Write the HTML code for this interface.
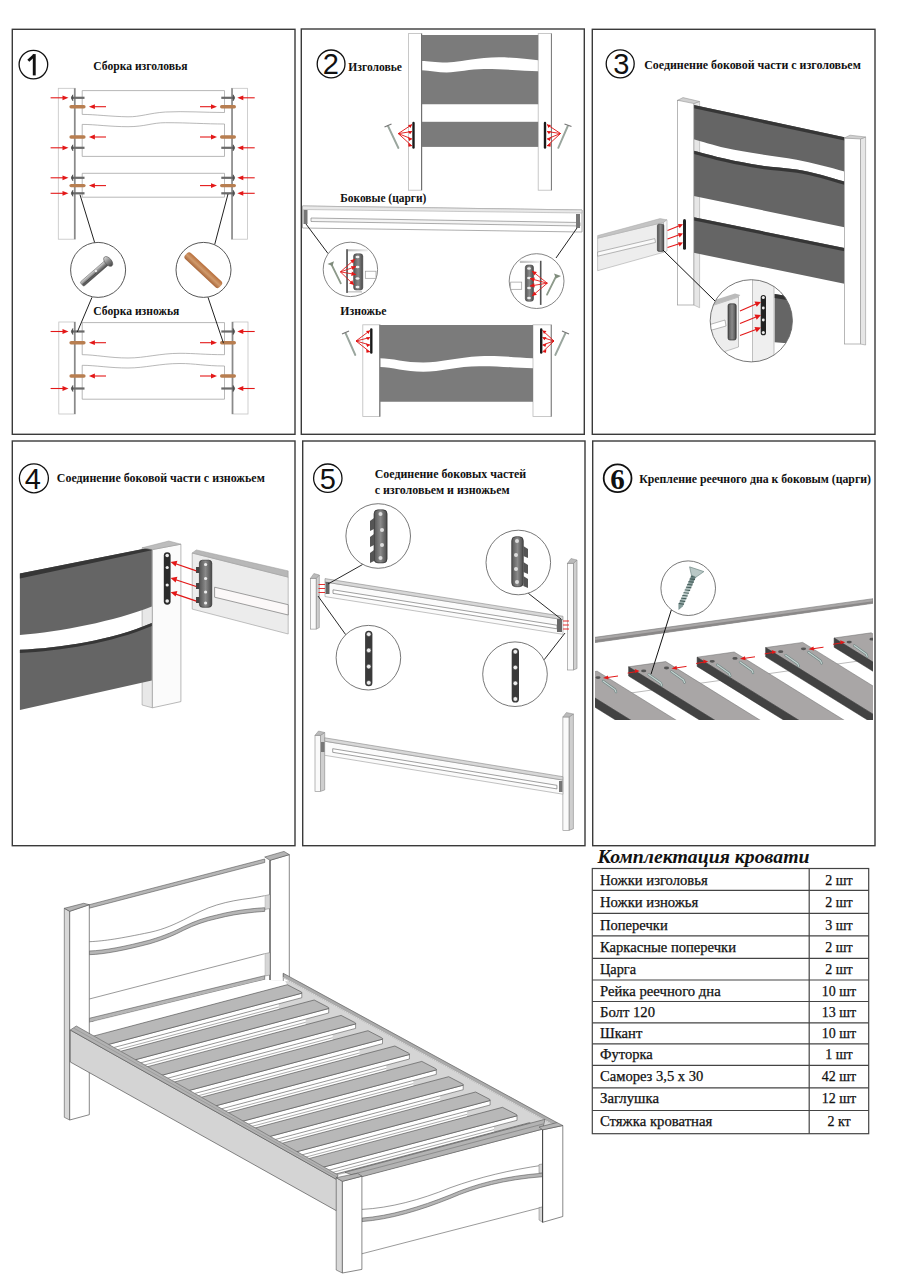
<!DOCTYPE html>
<html><head><meta charset="utf-8">
<style>
html,body{margin:0;padding:0;background:#fff;}
body{width:900px;height:1280px;overflow:hidden;position:relative;}
svg{position:absolute;left:0;top:0;}
.t{font-family:"Liberation Serif",serif;font-weight:bold;font-size:13.5px;fill:#111;}
.n{font-family:"Liberation Sans",sans-serif;font-size:29px;fill:#111;}
.tb{font-family:"Liberation Serif",serif;font-size:14px;fill:#111;stroke:#111;stroke-width:0.25px;}
</style></head>
<body>
<svg width="900" height="1280" viewBox="0 0 900 1280">
<!-- panel frames -->
<g fill="none" stroke="#3a3a3a" stroke-width="1.4">
<rect x="12.3" y="29.3" width="282.7" height="405"/>
<rect x="301.3" y="29" width="283" height="405.3"/>
<rect x="592.3" y="29.3" width="282.7" height="405"/>
<rect x="12.3" y="441" width="282.7" height="404.7"/>
<rect x="302.7" y="441" width="282.3" height="404.7"/>
<rect x="592.7" y="441" width="282.3" height="404.7"/>
</g>
<!-- ===== PANEL 2 ===== -->
<g id="p2">
<!-- headboard -->
<rect x="408.4" y="33.6" width="13.4" height="156.6" fill="#fff" stroke="#bbb" stroke-width="0.8"/>
<line x1="421.6" y1="33.6" x2="421.6" y2="190.2" stroke="#666" stroke-width="1"/>
<rect x="538.2" y="33.6" width="13.4" height="156.6" fill="#fff" stroke="#bbb" stroke-width="0.8"/>
<line x1="551.4" y1="33.6" x2="551.4" y2="190.2" stroke="#777" stroke-width="1"/>
<path d="M421.8 35.1H538.2V60.2C525 59 505 56 484 58C465 60 455 62.5 446.7 62.4C435 62.2 428 61 421.8 60.9Z" fill="#7b7b7b"/>
<path d="M421.8 70.2C430 70.5 438 72.4 446.7 72.4C458 72.4 470 69.2 484 69.1C505 69 525 71 538.2 71.3V104.2H421.8Z" fill="#7b7b7b"/>
<rect x="421.8" y="121.8" width="116.4" height="25.1" fill="#7b7b7b"/>
<!-- screws & arrows -->
<g stroke="#9aa69e" stroke-width="1.9" stroke-linecap="round"><line x1="388" y1="126" x2="398.4" y2="148"/><line x1="567.8" y1="126" x2="558.3" y2="147.8"/></g>
<g stroke="#777" stroke-width="1.3"><line x1="384.5" y1="127" x2="391.5" y2="124"/><line x1="571.5" y1="126.5" x2="564.5" y2="124"/></g>
<g stroke="#e01010" stroke-width="0.9" fill="none"><path d="M398.3 133.6L412 124.5M398.3 133.6L412 131.5M398.3 133.6L412 139M398.3 133.6L412 146"/><path d="M560.5 133.5L547 124.5M560.5 133.5L547 131.5M560.5 133.5L547 139M560.5 133.5L547 146"/></g>
<g fill="#e01010"><path d="M412 124.5l-4 0.5l2.5 3z M412 131.5l-4 -0.5l2 3.2z M412 139l-4 -1.6l1.2 3.6z M412 146l-3.8 -3l0.3 3.8z"/><path d="M547 124.5l4 0.5l-2.5 3z M547 131.5l4 -0.5l-2 3.2z M547 139l4 -1.6l-1.2 3.6z M547 146l3.8 -3l-0.3 3.8z"/></g>
<g stroke="#1a1a1a" stroke-width="2.4" stroke-linecap="round"><line x1="413.5" y1="123" x2="413.5" y2="147.5"/><line x1="545" y1="123" x2="545" y2="147.5"/></g>
<!-- side rail -->
<path d="M302.5 206L582 210V232L302.5 228Z" fill="#fff" stroke="#999" stroke-width="0.8"/>
<path d="M302.5 206L582 210L582 213L302.5 209.5Z" fill="#e8e8e8" stroke="#aaa" stroke-width="0.6"/>
<path d="M311 218L580 222.5L580 226L311 221.5Z" fill="#f4f4f4" stroke="#888" stroke-width="0.7"/>
<rect x="303.5" y="210" width="4" height="14" fill="#777"/>
<rect x="576" y="214" width="4" height="14" fill="#777"/>
<g stroke="#222" stroke-width="1"><line x1="306" y1="224" x2="328" y2="253.5"/><line x1="577" y1="228" x2="556" y2="258"/></g>
<defs><linearGradient id="gp" x1="0" y1="0" x2="1" y2="0"><stop offset="0" stop-color="#555"/><stop offset="0.5" stop-color="#8a8a8a"/><stop offset="1" stop-color="#4a4a4a"/></linearGradient>
<linearGradient id="gst" x1="0" y1="0" x2="1" y2="0"><stop offset="0" stop-color="#bbb"/><stop offset="1" stop-color="#eee"/></linearGradient></defs>
<circle cx="350.4" cy="269.4" r="27.2" fill="#fff" stroke="#666" stroke-width="0.8"/>
<circle cx="536.6" cy="281.1" r="27.4" fill="#fff" stroke="#666" stroke-width="0.8"/>
<rect x="346.1" y="249.2" width="1.9" height="43.7" fill="#666"/>
<rect x="348" y="249.2" width="19.8" height="2.1" fill="url(#gst)"/>
<rect x="348" y="291" width="14" height="1.6" fill="#ccc"/>
<rect x="353.6" y="253.8" width="9.2" height="36.2" rx="2.5" fill="url(#gp)" stroke="#333" stroke-width="0.5"/>
<ellipse cx="357.5" cy="257" rx="2" ry="1.3" fill="#eee"/>
<ellipse cx="357.5" cy="267" rx="2" ry="1.3" fill="#eee"/>
<ellipse cx="357.5" cy="278.5" rx="2" ry="1.3" fill="#eee"/>
<ellipse cx="357.5" cy="287" rx="2" ry="1.3" fill="#eee"/>
<rect x="365.3" y="271.2" width="10.7" height="7.1" fill="#fff" stroke="#999" stroke-width="0.7"/>
<line x1="331.5" y1="264.5" x2="340.8" y2="283.3" stroke="#8d9a8a" stroke-width="1.8" stroke-linecap="round"/>
<path d="M327.5 264L334 261.2L332.5 266Z" fill="#7f8c7c"/>
<line x1="340.4" y1="271.9" x2="355" y2="259" stroke="#e31818" stroke-width="0.9"/>
<path d="M355.0 259.0L353.1 263.6L350.2 260.3Z" fill="#e31818"/>
<line x1="340.4" y1="271.9" x2="356" y2="266.5" stroke="#e31818" stroke-width="0.9"/>
<path d="M356.0 266.5L352.5 270.1L351.0 265.9Z" fill="#e31818"/>
<line x1="340.4" y1="271.9" x2="356" y2="274.5" stroke="#e31818" stroke-width="0.9"/>
<path d="M356.0 274.5L351.2 275.9L351.9 271.6Z" fill="#e31818"/>
<line x1="340.4" y1="271.9" x2="354" y2="285" stroke="#e31818" stroke-width="0.9"/>
<path d="M354.0 285.0L349.2 283.5L352.3 280.3Z" fill="#e31818"/>
<rect x="539.9" y="260.8" width="1.6" height="44.1" fill="#555"/>
<rect x="519.9" y="260.8" width="20" height="2.2" fill="url(#gst)"/>
<rect x="525.3" y="265" width="8.2" height="36.3" rx="2.5" fill="url(#gp)" stroke="#333" stroke-width="0.5"/>
<ellipse cx="529" cy="268.5" rx="1.9" ry="1.3" fill="#eee"/>
<ellipse cx="529" cy="278" rx="1.9" ry="1.3" fill="#eee"/>
<ellipse cx="529" cy="288" rx="1.9" ry="1.3" fill="#eee"/>
<ellipse cx="529" cy="298" rx="1.9" ry="1.3" fill="#eee"/>
<rect x="510.7" y="282.1" width="11" height="7.2" fill="#fff" stroke="#999" stroke-width="0.7"/>
<line x1="556" y1="276.5" x2="547" y2="294.6" stroke="#8d9a8a" stroke-width="1.8" stroke-linecap="round"/>
<path d="M561 276L554 273.5L556 278.5Z" fill="#7f8c7c"/>
<line x1="547.3" y1="283.2" x2="532" y2="271" stroke="#e31818" stroke-width="0.9"/>
<path d="M532.0 271.0L536.9 272.1L534.1 275.5Z" fill="#e31818"/>
<line x1="547.3" y1="283.2" x2="530" y2="278.5" stroke="#e31818" stroke-width="0.9"/>
<path d="M530.0 278.5L534.9 277.6L533.8 281.8Z" fill="#e31818"/>
<line x1="547.3" y1="283.2" x2="530" y2="286" stroke="#e31818" stroke-width="0.9"/>
<path d="M530.0 286.0L534.1 283.1L534.8 287.5Z" fill="#e31818"/>
<line x1="547.3" y1="283.2" x2="532" y2="296" stroke="#e31818" stroke-width="0.9"/>
<path d="M532.0 296.0L534.0 291.4L536.9 294.8Z" fill="#e31818"/>
<!-- footboard -->
<rect x="362.8" y="324.8" width="17.2" height="91.8" fill="#fff" stroke="#bbb" stroke-width="0.8"/>
<line x1="379.8" y1="324.8" x2="379.8" y2="416.6" stroke="#666" stroke-width="1"/>
<rect x="533" y="324.8" width="18.4" height="91.8" fill="#fff" stroke="#bbb" stroke-width="0.8"/>
<line x1="551.2" y1="324.8" x2="551.2" y2="416.6" stroke="#777" stroke-width="1"/>
<path d="M380 325H533V358.2C515 357.5 500 355.5 479.3 356.3C458 357.5 440 362.5 423.3 362.5C405 362.5 392 358.2 380 358.2Z" fill="#7b7b7b"/>
<path d="M380 367C392 367 405 371.8 423.3 371.8C440 371.8 458 366.2 479.3 366.2C500 366 515 368 533 368.3V401.7H380Z" fill="#7b7b7b"/>
<g stroke="#9aa69e" stroke-width="1.9" stroke-linecap="round"><line x1="345.5" y1="333" x2="355.3" y2="355"/><line x1="565.5" y1="333" x2="555.3" y2="355"/></g>
<g stroke="#777" stroke-width="1.3"><line x1="342" y1="334" x2="349" y2="331"/><line x1="569" y1="334" x2="562" y2="331"/></g>
<g stroke="#e01010" stroke-width="0.9" fill="none"><path d="M356 341L370 330.5M356 341L370 337.5M356 341L370 345M356 341L370 352M554 341L542.5 330.5M554 341L542.5 337.5M554 341L542.5 345M554 341L542.5 352"/></g>
<g fill="#e01010"><path d="M370 330.5l-4 0.5l2.5 3z M370 337.5l-4 -0.5l2 3.2z M370 345l-4 -1.6l1.2 3.6z M370 352l-3.8 -3l0.3 3.8z"/><path d="M542.5 330.5l4 0.5l-2.5 3z M542.5 337.5l4 -0.5l-2 3.2z M542.5 345l4 -1.6l-1.2 3.6z M542.5 352l3.8 -3l-0.3 3.8z"/></g>
<g stroke="#1a1a1a" stroke-width="2.4" stroke-linecap="round"><line x1="371.3" y1="329.5" x2="371.3" y2="352.5"/><line x1="541.2" y1="329.5" x2="541.2" y2="352.5"/></g>
</g>
<g id="p1">
<rect x="58.3" y="88.3" width="17.0" height="150.89999999999998" fill="#fff" stroke="#c4c4c4" stroke-width="0.8"/>
<line x1="74.7" y1="88.3" x2="74.7" y2="239.2" stroke="#8a8a8a" stroke-width="1.6"/>
<rect x="231.5" y="88.3" width="16.0" height="150.89999999999998" fill="#fff" stroke="#c4c4c4" stroke-width="0.8"/>
<line x1="232.1" y1="88.3" x2="232.1" y2="239.2" stroke="#8a8a8a" stroke-width="1.6"/>
<path d="M82.2 90.6H224.5V112.5C205 112.5 185 111 165.3 112C150 113 140 117 128 116.8C110 116.5 95 114.4 82.2 114.4Z" fill="#fff" stroke="#999" stroke-width="0.7"/>
<path d="M82.2 124.4C95 124.4 110 126.7 128 126.7C145 126.7 152 122.7 165.3 122.7C190 122.7 205 124 224.5 124V156.4H82.2Z" fill="#fff" stroke="#999" stroke-width="0.7"/>
<path d="M82.2 173.3H224.5V197.2H82.2Z" fill="#fff" stroke="#999" stroke-width="0.7"/>
<rect x="58.8" y="322" width="16.5" height="92" fill="#fff" stroke="#c4c4c4" stroke-width="0.8"/>
<line x1="74.7" y1="322" x2="74.7" y2="414" stroke="#8a8a8a" stroke-width="1.6"/>
<rect x="232" y="322" width="16" height="92" fill="#fff" stroke="#c4c4c4" stroke-width="0.8"/>
<line x1="232.6" y1="322" x2="232.6" y2="414" stroke="#8a8a8a" stroke-width="1.6"/>
<path d="M82.2 322.6H224.5V354.7C205 354.7 195 353.3 180 353.3C160 353.3 145 358 128 358C110 358 95 354.7 82.2 354.7Z" fill="#fff" stroke="#999" stroke-width="0.7"/>
<path d="M82.2 365.3C95 365.3 110 368 128 368C145 368 160 363.5 180 363.5C195 363.5 205 366 224.5 366V399.2H82.2Z" fill="#fff" stroke="#999" stroke-width="0.7"/>
<rect x="71.5" y="96.7" width="13" height="2.2" fill="#6a6a6a"/>
<path d="M72.8 94.8Q70 97.8 72.8 100.8Z" fill="#555" stroke="#444" stroke-width="0.6"/>
<rect x="221.3" y="96.7" width="13" height="2.2" fill="#6a6a6a"/>
<path d="M233.2 94.8Q236 97.8 233.2 100.8Z" fill="#555" stroke="#444" stroke-width="0.6"/>
<line x1="50.6" y1="97.8" x2="64.5" y2="97.8" stroke="#e31818" stroke-width="1.1"/>
<path d="M68.5 97.8L62.5 95.39999999999999L62.5 100.2Z" fill="#e31818"/>
<line x1="254.7" y1="97.8" x2="241.3" y2="97.8" stroke="#e31818" stroke-width="1.1"/>
<path d="M237.3 97.8L243.3 95.39999999999999L243.3 100.2Z" fill="#e31818"/>
<rect x="71.5" y="146.70000000000002" width="13" height="2.2" fill="#6a6a6a"/>
<path d="M72.8 144.8Q70 147.8 72.8 150.8Z" fill="#555" stroke="#444" stroke-width="0.6"/>
<rect x="221.3" y="146.70000000000002" width="13" height="2.2" fill="#6a6a6a"/>
<path d="M233.2 144.8Q236 147.8 233.2 150.8Z" fill="#555" stroke="#444" stroke-width="0.6"/>
<line x1="50.6" y1="147.8" x2="64.5" y2="147.8" stroke="#e31818" stroke-width="1.1"/>
<path d="M68.5 147.8L62.5 145.4L62.5 150.20000000000002Z" fill="#e31818"/>
<line x1="254.7" y1="147.8" x2="241.3" y2="147.8" stroke="#e31818" stroke-width="1.1"/>
<path d="M237.3 147.8L243.3 145.4L243.3 150.20000000000002Z" fill="#e31818"/>
<rect x="71.5" y="176.70000000000002" width="13" height="2.2" fill="#6a6a6a"/>
<path d="M72.8 174.8Q70 177.8 72.8 180.8Z" fill="#555" stroke="#444" stroke-width="0.6"/>
<rect x="221.3" y="176.70000000000002" width="13" height="2.2" fill="#6a6a6a"/>
<path d="M233.2 174.8Q236 177.8 233.2 180.8Z" fill="#555" stroke="#444" stroke-width="0.6"/>
<line x1="50.6" y1="177.8" x2="64.5" y2="177.8" stroke="#e31818" stroke-width="1.1"/>
<path d="M68.5 177.8L62.5 175.4L62.5 180.20000000000002Z" fill="#e31818"/>
<line x1="254.7" y1="177.8" x2="241.3" y2="177.8" stroke="#e31818" stroke-width="1.1"/>
<path d="M237.3 177.8L243.3 175.4L243.3 180.20000000000002Z" fill="#e31818"/>
<rect x="71.5" y="192.20000000000002" width="13" height="2.2" fill="#6a6a6a"/>
<path d="M72.8 190.3Q70 193.3 72.8 196.3Z" fill="#555" stroke="#444" stroke-width="0.6"/>
<rect x="221.3" y="192.20000000000002" width="13" height="2.2" fill="#6a6a6a"/>
<path d="M233.2 190.3Q236 193.3 233.2 196.3Z" fill="#555" stroke="#444" stroke-width="0.6"/>
<line x1="50.6" y1="193.3" x2="64.5" y2="193.3" stroke="#e31818" stroke-width="1.1"/>
<path d="M68.5 193.3L62.5 190.9L62.5 195.70000000000002Z" fill="#e31818"/>
<line x1="254.7" y1="193.3" x2="241.3" y2="193.3" stroke="#e31818" stroke-width="1.1"/>
<path d="M237.3 193.3L243.3 190.9L243.3 195.70000000000002Z" fill="#e31818"/>
<rect x="71.5" y="330.4" width="13" height="2.2" fill="#6a6a6a"/>
<path d="M72.8 328.5Q70 331.5 72.8 334.5Z" fill="#555" stroke="#444" stroke-width="0.6"/>
<rect x="221.3" y="330.4" width="13" height="2.2" fill="#6a6a6a"/>
<path d="M233.2 328.5Q236 331.5 233.2 334.5Z" fill="#555" stroke="#444" stroke-width="0.6"/>
<line x1="50.6" y1="331.5" x2="64.5" y2="331.5" stroke="#e31818" stroke-width="1.1"/>
<path d="M68.5 331.5L62.5 329.1L62.5 333.9Z" fill="#e31818"/>
<line x1="254.7" y1="331.5" x2="241.3" y2="331.5" stroke="#e31818" stroke-width="1.1"/>
<path d="M237.3 331.5L243.3 329.1L243.3 333.9Z" fill="#e31818"/>
<rect x="71.5" y="387.4" width="13" height="2.2" fill="#6a6a6a"/>
<path d="M72.8 385.5Q70 388.5 72.8 391.5Z" fill="#555" stroke="#444" stroke-width="0.6"/>
<rect x="221.3" y="387.4" width="13" height="2.2" fill="#6a6a6a"/>
<path d="M233.2 385.5Q236 388.5 233.2 391.5Z" fill="#555" stroke="#444" stroke-width="0.6"/>
<line x1="50.6" y1="388.5" x2="64.5" y2="388.5" stroke="#e31818" stroke-width="1.1"/>
<path d="M68.5 388.5L62.5 386.1L62.5 390.9Z" fill="#e31818"/>
<line x1="254.7" y1="388.5" x2="241.3" y2="388.5" stroke="#e31818" stroke-width="1.1"/>
<path d="M237.3 388.5L243.3 386.1L243.3 390.9Z" fill="#e31818"/>
<rect x="69.4" y="105.0" width="16.19999999999999" height="3.4" rx="1.7" fill="#b87e50"/>
<rect x="220" y="105.0" width="16" height="3.4" rx="1.7" fill="#b87e50"/>
<line x1="106" y1="106.7" x2="92.9" y2="106.7" stroke="#e31818" stroke-width="1.1"/>
<path d="M88.9 106.7L94.9 104.3L94.9 109.10000000000001Z" fill="#e31818"/>
<line x1="200" y1="106.7" x2="213" y2="106.7" stroke="#e31818" stroke-width="1.1"/>
<path d="M217 106.7L211 104.3L211 109.10000000000001Z" fill="#e31818"/>
<rect x="69.4" y="135.3" width="16.19999999999999" height="3.4" rx="1.7" fill="#b87e50"/>
<rect x="220" y="135.3" width="16" height="3.4" rx="1.7" fill="#b87e50"/>
<line x1="106" y1="137" x2="92.9" y2="137" stroke="#e31818" stroke-width="1.1"/>
<path d="M88.9 137L94.9 134.6L94.9 139.4Z" fill="#e31818"/>
<line x1="200" y1="137" x2="213" y2="137" stroke="#e31818" stroke-width="1.1"/>
<path d="M217 137L211 134.6L211 139.4Z" fill="#e31818"/>
<rect x="69.4" y="183.9" width="16.19999999999999" height="3.4" rx="1.7" fill="#b87e50"/>
<rect x="220" y="183.9" width="16" height="3.4" rx="1.7" fill="#b87e50"/>
<line x1="106" y1="185.6" x2="92.9" y2="185.6" stroke="#e31818" stroke-width="1.1"/>
<path d="M88.9 185.6L94.9 183.2L94.9 188.0Z" fill="#e31818"/>
<line x1="200" y1="185.6" x2="213" y2="185.6" stroke="#e31818" stroke-width="1.1"/>
<path d="M217 185.6L211 183.2L211 188.0Z" fill="#e31818"/>
<rect x="69.4" y="341.0" width="16.19999999999999" height="3.4" rx="1.7" fill="#b87e50"/>
<rect x="220" y="341.0" width="16" height="3.4" rx="1.7" fill="#b87e50"/>
<line x1="106" y1="342.7" x2="92.9" y2="342.7" stroke="#e31818" stroke-width="1.1"/>
<path d="M88.9 342.7L94.9 340.3L94.9 345.09999999999997Z" fill="#e31818"/>
<line x1="200" y1="342.7" x2="213" y2="342.7" stroke="#e31818" stroke-width="1.1"/>
<path d="M217 342.7L211 340.3L211 345.09999999999997Z" fill="#e31818"/>
<rect x="69.4" y="374.3" width="16.19999999999999" height="3.4" rx="1.7" fill="#b87e50"/>
<rect x="220" y="374.3" width="16" height="3.4" rx="1.7" fill="#b87e50"/>
<line x1="106" y1="376" x2="92.9" y2="376" stroke="#e31818" stroke-width="1.1"/>
<path d="M88.9 376L94.9 373.6L94.9 378.4Z" fill="#e31818"/>
<line x1="200" y1="376" x2="213" y2="376" stroke="#e31818" stroke-width="1.1"/>
<path d="M217 376L211 373.6L211 378.4Z" fill="#e31818"/>
<g stroke="#222" stroke-width="1"><line x1="80" y1="194.7" x2="94.7" y2="242.7"/><line x1="228" y1="194" x2="214.7" y2="244.5"/><line x1="92" y1="297.3" x2="77.3" y2="332"/><line x1="208" y1="297.3" x2="223.5" y2="343.2"/></g>
<circle cx="98.1" cy="269.9" r="27.5" fill="#fff" stroke="#444" stroke-width="0.9"/>
<circle cx="203.5" cy="269.9" r="27.5" fill="#fff" stroke="#444" stroke-width="0.9"/>
<defs><linearGradient id="gb" x1="0" y1="0" x2="0" y2="1"><stop offset="0" stop-color="#ddd"/><stop offset="0.5" stop-color="#888"/><stop offset="1" stop-color="#444"/></linearGradient><linearGradient id="gd" x1="0" y1="0" x2="0" y2="1"><stop offset="0" stop-color="#b86f3c"/><stop offset="0.5" stop-color="#d09a6c"/><stop offset="1" stop-color="#a8663a"/></linearGradient></defs>
<g transform="translate(96.5,271.6) rotate(-41)"><rect x="-19.5" y="-2.8" width="34" height="5.6" fill="url(#gb)" rx="1.5" stroke="#555" stroke-width="0.5"/><line x1="-19" y1="0.8" x2="-1" y2="0.8" stroke="#444" stroke-width="0.8"/><ellipse cx="15.5" cy="0" rx="3.3" ry="5.8" fill="url(#gb)" stroke="#555" stroke-width="0.6"/><circle cx="0" cy="-0.8" r="1" fill="#fff"/></g>
<g transform="translate(203.3,270.2) rotate(43)"><rect x="-23.5" y="-4.2" width="47" height="8.4" rx="3" fill="url(#gd)"/></g>
</g>
<g id="p3">
<path d="M693.8 103.5L699.6 101.5V307.7L693.8 305Z" fill="#e6e6e6" stroke="#aaa" stroke-width="0.6"/>
<path d="M860.4 139L865.6 137V345L860.4 344Z" fill="#e6e6e6" stroke="#999" stroke-width="0.6"/>
<path d="M693.8 105L844.4 137.2V171.6C830 167 812 163 796.7 159.7C785 157.5 772 156 761 154.3C748 152.2 737 150.6 725.6 148.1C713 145 702 141.5 693.8 139.2Z" fill="#656565"/>
<path d="M693.8 105L844.4 137.2V140.5L693.8 108.3Z" fill="#363636"/>
<path d="M693.8 150.8C702 153 713 156 725.6 158.8C737 161.4 748 163.6 761 165.5C772 167 785 167.8 796.7 169.4C812 172 830 177 844.4 181.5V227.2L693.8 196.1Z" fill="#656565"/>
<path d="M693.8 150.8C702 153 713 156 725.6 158.8C737 161.4 748 163.6 761 165.5C772 167 785 167.8 796.7 169.4C812 172 830 177 844.4 181.5V184.8C830 180.3 812 175.3 796.7 172.7C785 171.1 772 170.3 761 168.8C748 166.9 737 164.7 725.6 162.1C713 159.3 702 156.3 693.8 154.1Z" fill="#363636"/>
<path d="M693.8 217.2L844.4 248V283.8L693.8 252.8Z" fill="#656565"/>
<path d="M693.8 217.2L844.4 248V251.3L693.8 220.5Z" fill="#363636"/>
<rect x="677.6" y="100.3" width="16.2" height="204.7" fill="#fff" stroke="#999" stroke-width="0.7"/>
<path d="M677.6 100.3L683 97.6L699.6 101.5L693.8 103.5Z" fill="#d0d0d0" stroke="#999" stroke-width="0.6"/>
<rect x="844.4" y="138" width="16" height="206" fill="#fff" stroke="#999" stroke-width="0.7"/>
<path d="M844.4 138L850 135.2L865.6 137L860.4 139Z" fill="#d0d0d0" stroke="#999" stroke-width="0.6"/>
<path d="M597.6 238.2L663.5 222.4V252.3L597.6 270.7Z" fill="#ededed" stroke="#aaa" stroke-width="0.6"/>
<path d="M597.6 235.6L660 218.6L667 219.8L663.5 222.4L597.6 238.2Z" fill="#c4c4c4" stroke="#aaa" stroke-width="0.5"/>
<path d="M663.5 222.4L667 219.8V251L663.5 252.3Z" fill="#f6f6f6" stroke="#999" stroke-width="0.5"/>
<path d="M597.6 252L654.8 238.6L655.5 242.4L597.6 256.2Z" fill="#fafafa" stroke="#888" stroke-width="0.6"/>
<rect x="657.4" y="224.2" width="6.4" height="27.2" rx="1.5" fill="url(#gp)" stroke="#222" stroke-width="0.5"/>
<rect x="683" y="219" width="3" height="30.7" rx="1.5" fill="#222"/>
<g stroke="#e31818" stroke-width="1.1"><line x1="667.5" y1="230.5" x2="680" y2="225.5"/><line x1="667.5" y1="239" x2="680" y2="234.5"/><line x1="667.5" y1="247.5" x2="680" y2="243.5"/></g>
<g fill="#e31818"><path d="M683 224.3l-5 -0.4l1.6 4.3z"/><path d="M683 233.5l-5 -0.4l1.6 4.3z"/><path d="M683 242.6l-5 -0.4l1.6 4.3z"/></g>
<line x1="663" y1="250" x2="715" y2="301" stroke="#111" stroke-width="1"/>
<defs><clipPath id="c3"><circle cx="751.3" cy="320.8" r="41.1"/></clipPath></defs>
<g clip-path="url(#c3)"><rect x="700" y="270" width="110" height="110" fill="#fff"/>
<rect x="752.5" y="270" width="21.5" height="110" fill="#efefef" stroke="#999" stroke-width="0.6"/>
<path d="M774.7 294L810 300V345L774.7 342.3Z" fill="#656565"/>
<path d="M774.7 294L810 300V304L774.7 298Z" fill="#333"/>
<path d="M705 308L738.5 297V347L705 358Z" fill="#ededed" stroke="#999" stroke-width="0.6"/>
<path d="M705 303L735 293.5L740.3 295L738.5 297L705 308Z" fill="#bbb"/>
<path d="M705 326L725 320L726 326L705 332Z" fill="#fff" stroke="#888" stroke-width="0.6"/>
<rect x="728" y="303.8" width="8.2" height="36.2" rx="2" fill="url(#gp)" stroke="#222" stroke-width="0.6"/>
<rect x="760.7" y="295" width="5.3" height="40.3" rx="2.6" fill="#222"/>
<g fill="#eee"><circle cx="763.3" cy="297.5" r="1.5"/><circle cx="763.3" cy="308" r="1.4"/><circle cx="763.3" cy="320" r="1.4"/><circle cx="763.3" cy="332.5" r="1.5"/></g>
<g stroke="#e31818" stroke-width="1.2"><line x1="740" y1="311" x2="756" y2="304"/><line x1="740" y1="323.5" x2="756" y2="317"/><line x1="740" y1="335.5" x2="756" y2="329.5"/></g>
<g fill="#e31818"><path d="M761 302l-6.5 -0.5l2.2 5.3z"/><path d="M761 315l-6.5 -0.5l2.2 5.3z"/><path d="M761 327.5l-6.5 -0.5l2.2 5.3z"/></g>
</g>
<circle cx="751.3" cy="320.8" r="41.1" fill="none" stroke="#666" stroke-width="0.9"/>
</g>
<g id="p4">
<path d="M142.1 547.8L152.4 549.6V707.8L142.1 705Z" fill="#e8e8e8" stroke="#999" stroke-width="0.6"/>
<path d="M19.9 573.6L151.8 547.3V606.5C115 621 60 632 19.9 634.9Z" fill="#656565"/>
<path d="M19.9 573.6L151.8 547.3V550.3L19.9 578.6Z" fill="#363636"/>
<path d="M19.9 649.7C60 648 112 640 151.8 622.9V680.5L19.9 710.1Z" fill="#656565"/>
<path d="M19.9 649.7C60 648 112 640 151.8 622.9V626C112 643 60 651 19.9 652.9Z" fill="#363636"/>
<path d="M152.4 549.6L180.9 544.2V701.6L152.4 707.8Z" fill="#fbfbfb" stroke="#999" stroke-width="0.7"/>
<path d="M142.1 547.8L168.8 541L180.9 544.2L152.4 549.6Z" fill="#bdbdbd" stroke="#999" stroke-width="0.5"/>
<rect x="163.8" y="552.2" width="6.8" height="52.5" rx="3.4" fill="#2a2a2a"/>
<g fill="#eee"><circle cx="167.2" cy="555.5" r="1.8"/><circle cx="167.2" cy="567.5" r="1.6"/><circle cx="167.2" cy="585" r="1.6"/><circle cx="167.2" cy="601" r="1.8"/></g>
<path d="M192.2 553L288.2 577.1V634L192.2 609.1Z" fill="#ececec" stroke="#999" stroke-width="0.6"/>
<path d="M192.2 553L196.3 549.9L288.2 570.9V577.1Z" fill="#b8b8b8" stroke="#999" stroke-width="0.5"/>
<path d="M214.6 587.2L288.2 604.7V615L214.6 597.2Z" fill="#fbf8f8" stroke="#777" stroke-width="0.7"/>
<rect x="199.4" y="560.2" width="12.4" height="47.1" rx="3" fill="url(#gp)" stroke="#222" stroke-width="0.6"/>
<g fill="#444"><rect x="196" y="567" width="3.5" height="6"/><rect x="196" y="583" width="3.5" height="6"/><rect x="196" y="597" width="3.5" height="6"/></g>
<g fill="#eee"><circle cx="205.6" cy="564.5" r="1.6"/><circle cx="205.6" cy="578.5" r="1.6"/><circle cx="205.6" cy="592" r="1.6"/><circle cx="205.6" cy="603" r="1.6"/></g>
<g stroke="#e31818" stroke-width="1.3"><line x1="196.3" y1="570.9" x2="175" y2="563.5"/><line x1="196.3" y1="586.5" x2="175" y2="579.5"/><line x1="196.3" y1="601.1" x2="175" y2="593.8"/></g>
<g fill="#e31818"><path d="M170.6 562l6.8 -1.2l-1.8 5.6z"/><path d="M170.6 578l6.8 -1.2l-1.8 5.6z"/><path d="M170.6 592.2l6.8 -1.2l-1.8 5.6z"/></g>
</g>
<g id="p5">
<path d="M316.1 578.4L319.3 575V627.6L316.1 629.1Z" fill="#cfcfcf" stroke="#888" stroke-width="0.6"/>
<rect x="310.4" y="578.4" width="5.7000000000000455" height="50.700000000000045" fill="#fafafa" stroke="#888" stroke-width="0.6"/>
<path d="M310.4 578.4L313.9 573.5L319.3 575L316.1 578.4Z" fill="#bbb" stroke="#888" stroke-width="0.5"/>
<path d="M573.3 563.3L577 560V668.5L573.3 670Z" fill="#cfcfcf" stroke="#888" stroke-width="0.6"/>
<rect x="567.5" y="563.3" width="5.7999999999999545" height="106.70000000000005" fill="#fafafa" stroke="#888" stroke-width="0.6"/>
<path d="M567.5 563.3L571.0 558.5L577 560L573.3 563.3Z" fill="#bbb" stroke="#888" stroke-width="0.5"/>
<path d="M325 582.0L563 619.6999999999999V634.3L325 596.6Z" fill="#fbfbfb" stroke="#999" stroke-width="0.6"/>
<path d="M325 578.6L563 616.3V619.6999999999999L325 582.0Z" fill="#d8d8d8" stroke="#888" stroke-width="0.6"/>
<path d="M333 589.8L557 625.2V628.8L333 593.4Z" fill="#fff" stroke="#777" stroke-width="0.7"/>
<rect x="325.5" y="582" width="4" height="12" fill="#666"/>
<rect x="557" y="619" width="5" height="13" fill="#666"/>
<g stroke="#e31818" stroke-width="0.9"><path d="M325 584.5H318.5M325 588.5H318.5M325 592.5H318.5M563 621H569M563 625H569M563 629H569"/></g>
<g stroke="#111" stroke-width="0.9"><line x1="328" y1="584" x2="362.6" y2="564.5"/><line x1="318" y1="596" x2="345.8" y2="634.8"/><line x1="561" y1="619" x2="528.3" y2="593.3"/><line x1="565" y1="633" x2="544.2" y2="659.7"/></g>
<circle cx="378.2" cy="536" r="32.3" fill="#fff" stroke="#555" stroke-width="0.8"/>
<circle cx="368.4" cy="657.7" r="32.3" fill="#fff" stroke="#555" stroke-width="0.8"/>
<circle cx="518.3" cy="562.5" r="32.3" fill="#fff" stroke="#555" stroke-width="0.8"/>
<circle cx="515" cy="674.2" r="32.3" fill="#fff" stroke="#555" stroke-width="0.8"/>
<rect x="374" y="509.8" width="13.1" height="53.1" rx="4" fill="url(#gp)" stroke="#222" stroke-width="0.6"/>
<g fill="#555"><path d="M370 521L374 518V529L370 531Z"/><path d="M370 537L374 534V545L370 547Z"/><path d="M370 553L374 550V561L370 563Z"/></g>
<g fill="#ddd"><circle cx="380.5" cy="514" r="2"/><circle cx="382" cy="530" r="2"/><circle cx="382" cy="545" r="2"/><circle cx="380.5" cy="558" r="2"/></g>
<rect x="511.7" y="536.7" width="11.6" height="50" rx="4" fill="url(#gp)" stroke="#222" stroke-width="0.6"/>
<g fill="#555"><path d="M523.3 546L528 549V558L523.3 556Z"/><path d="M523.3 562L528 565V574L523.3 572Z"/><path d="M523.3 576L528 579V588L523.3 586Z"/></g>
<g fill="#ddd"><circle cx="517" cy="541" r="2"/><circle cx="516" cy="555" r="2"/><circle cx="516" cy="569" r="2"/><circle cx="517" cy="582" r="2"/></g>
<rect x="365.1" y="630.7" width="7.3" height="55.6" rx="3.6" fill="#3a3a3a"/>
<circle cx="368.75" cy="634.2" r="2.3" fill="#eee" stroke="#333" stroke-width="0.5"/>
<circle cx="368.75" cy="650.4" r="2.3" fill="#eee" stroke="#333" stroke-width="0.5"/>
<circle cx="368.75" cy="666.6" r="2.3" fill="#eee" stroke="#333" stroke-width="0.5"/>
<circle cx="368.75" cy="682.8" r="2.3" fill="#eee" stroke="#333" stroke-width="0.5"/>
<rect x="511.7" y="648.3" width="7.3" height="54.2" rx="3.6" fill="#3a3a3a"/>
<circle cx="515.35" cy="651.8" r="2.3" fill="#eee" stroke="#333" stroke-width="0.5"/>
<circle cx="515.35" cy="667.5" r="2.3" fill="#eee" stroke="#333" stroke-width="0.5"/>
<circle cx="515.35" cy="683.3" r="2.3" fill="#eee" stroke="#333" stroke-width="0.5"/>
<circle cx="515.35" cy="699.0" r="2.3" fill="#eee" stroke="#333" stroke-width="0.5"/>
<path d="M320.5 735.3L324.7 732.5V789.9L320.5 791.4Z" fill="#cfcfcf" stroke="#888" stroke-width="0.6"/>
<rect x="315" y="735.3" width="5.5" height="56.10000000000002" fill="#fafafa" stroke="#888" stroke-width="0.6"/>
<path d="M315 735.3L318.5 731.0L324.7 732.5L320.5 735.3Z" fill="#bbb" stroke="#888" stroke-width="0.5"/>
<path d="M569 717L573.4 714V828.8L569 830.3Z" fill="#cfcfcf" stroke="#888" stroke-width="0.6"/>
<rect x="562.9" y="717" width="6.100000000000023" height="113.29999999999995" fill="#fafafa" stroke="#888" stroke-width="0.6"/>
<path d="M562.9 717L566.4 712.5L573.4 714L569 717Z" fill="#bbb" stroke="#888" stroke-width="0.5"/>
<path d="M324.7 741.1999999999999L562.9 780.1V794.2L324.7 755.3Z" fill="#fbfbfb" stroke="#999" stroke-width="0.6"/>
<path d="M324.7 737.8L562.9 776.7V780.1L324.7 741.1999999999999Z" fill="#d8d8d8" stroke="#888" stroke-width="0.6"/>
<path d="M332.7 748.7L556.9 785.3V788.9L332.7 752.3Z" fill="#fff" stroke="#777" stroke-width="0.7"/>
<rect x="321" y="742" width="3.5" height="10" fill="#777"/>
<rect x="559" y="781" width="3.5" height="11" fill="#777"/>
</g>
<g id="p6">
<defs><clipPath id="c6"><rect x="595" y="560" width="278" height="160"/></clipPath></defs>
<g clip-path="url(#c6)">
<path d="M594.6 637.4L873 598.7V603.3L594.6 642.6Z" fill="#a9a7a7" stroke="#777" stroke-width="0.6"/>
<path d="M594.6 640L873 601.2V603.3L594.6 642.6Z" fill="#8a8888"/>
<line x1="595" y1="698" x2="873" y2="659" stroke="#bbb" stroke-width="1"/>
<path d="M560.1 676.4L597.2 671.2L717.2 745.6L680.1 750.8Z" fill="#a9a6a6" stroke="#6a6a6a" stroke-width="0.5"/>
<path d="M560.1 676.4L680.1 750.8V760.0L560.1 685.6Z" fill="#424242" stroke="#333" stroke-width="0.5"/>
<ellipse cx="575.2" cy="680.5" rx="2.6" ry="1.4" fill="#555"/>
<path d="M580.2 684.0L592.2 692.5L593.2 695.0" fill="none" stroke="#6f8583" stroke-width="2.4" stroke-linecap="round"/><path d="M580.2 684.0L592.2 692.5L593.2 695.0" fill="none" stroke="#c5d3d0" stroke-width="1.2" stroke-linecap="round"/>
<ellipse cx="598.0" cy="677.6" rx="2.6" ry="1.4" fill="#555"/>
<path d="M603.0 681.1L615.0 689.6L616.0 692.1" fill="none" stroke="#6f8583" stroke-width="2.4" stroke-linecap="round"/><path d="M603.0 681.1L615.0 689.6L616.0 692.1" fill="none" stroke="#c5d3d0" stroke-width="1.2" stroke-linecap="round"/>
<g stroke="#e31818" stroke-width="1"><line x1="559.2" y1="682.7" x2="567.2" y2="681.3"/><line x1="618.0" y1="676.0" x2="607.0" y2="677.6"/></g>
<g fill="#e31818"><path d="M571.2 680.7l-5 -2l0.6 4z"/><path d="M603.0 678.0l5 -2.6l0.5 4z"/></g>
<path d="M628.6 666.8L665.7 661.6L785.7 736.0L748.6 741.2Z" fill="#a9a6a6" stroke="#6a6a6a" stroke-width="0.5"/>
<path d="M628.6 666.8L748.6 741.2V750.4L628.6 676.0Z" fill="#424242" stroke="#333" stroke-width="0.5"/>
<ellipse cx="643.7" cy="670.9" rx="2.6" ry="1.4" fill="#555"/>
<path d="M648.7 674.4L660.7 682.9L661.7 685.4" fill="none" stroke="#6f8583" stroke-width="2.4" stroke-linecap="round"/><path d="M648.7 674.4L660.7 682.9L661.7 685.4" fill="none" stroke="#c5d3d0" stroke-width="1.2" stroke-linecap="round"/>
<ellipse cx="666.5" cy="668.0" rx="2.6" ry="1.4" fill="#555"/>
<path d="M671.5 671.5L683.5 680.0L684.5 682.5" fill="none" stroke="#6f8583" stroke-width="2.4" stroke-linecap="round"/><path d="M671.5 671.5L683.5 680.0L684.5 682.5" fill="none" stroke="#c5d3d0" stroke-width="1.2" stroke-linecap="round"/>
<g stroke="#e31818" stroke-width="1"><line x1="627.7" y1="673.1" x2="635.7" y2="671.7"/><line x1="686.5" y1="666.4" x2="675.5" y2="668.0"/></g>
<g fill="#e31818"><path d="M639.7 671.1l-5 -2l0.6 4z"/><path d="M671.5 668.4l5 -2.6l0.5 4z"/></g>
<path d="M697.1 657.2L734.2 652.0L854.2 726.4L817.1 731.6Z" fill="#a9a6a6" stroke="#6a6a6a" stroke-width="0.5"/>
<path d="M697.1 657.2L817.1 731.6V740.8L697.1 666.4Z" fill="#424242" stroke="#333" stroke-width="0.5"/>
<ellipse cx="712.2" cy="661.3" rx="2.6" ry="1.4" fill="#555"/>
<path d="M717.2 664.8L729.2 673.3L730.2 675.8" fill="none" stroke="#6f8583" stroke-width="2.4" stroke-linecap="round"/><path d="M717.2 664.8L729.2 673.3L730.2 675.8" fill="none" stroke="#c5d3d0" stroke-width="1.2" stroke-linecap="round"/>
<ellipse cx="735.0" cy="658.4" rx="2.6" ry="1.4" fill="#555"/>
<path d="M740.0 661.9L752.0 670.4L753.0 672.9" fill="none" stroke="#6f8583" stroke-width="2.4" stroke-linecap="round"/><path d="M740.0 661.9L752.0 670.4L753.0 672.9" fill="none" stroke="#c5d3d0" stroke-width="1.2" stroke-linecap="round"/>
<g stroke="#e31818" stroke-width="1"><line x1="696.2" y1="663.5" x2="704.2" y2="662.1"/><line x1="755.0" y1="656.8" x2="744.0" y2="658.4"/></g>
<g fill="#e31818"><path d="M708.2 661.5l-5 -2l0.6 4z"/><path d="M740.0 658.8l5 -2.6l0.5 4z"/></g>
<path d="M765.6 647.6L802.7 642.4L922.7 716.8L885.6 722.0Z" fill="#a9a6a6" stroke="#6a6a6a" stroke-width="0.5"/>
<path d="M765.6 647.6L885.6 722.0V731.2L765.6 656.8Z" fill="#424242" stroke="#333" stroke-width="0.5"/>
<ellipse cx="780.7" cy="651.7" rx="2.6" ry="1.4" fill="#555"/>
<path d="M785.7 655.2L797.7 663.7L798.7 666.2" fill="none" stroke="#6f8583" stroke-width="2.4" stroke-linecap="round"/><path d="M785.7 655.2L797.7 663.7L798.7 666.2" fill="none" stroke="#c5d3d0" stroke-width="1.2" stroke-linecap="round"/>
<ellipse cx="803.5" cy="648.8" rx="2.6" ry="1.4" fill="#555"/>
<path d="M808.5 652.3L820.5 660.8L821.5 663.3" fill="none" stroke="#6f8583" stroke-width="2.4" stroke-linecap="round"/><path d="M808.5 652.3L820.5 660.8L821.5 663.3" fill="none" stroke="#c5d3d0" stroke-width="1.2" stroke-linecap="round"/>
<g stroke="#e31818" stroke-width="1"><line x1="764.7" y1="653.9" x2="772.7" y2="652.5"/><line x1="823.5" y1="647.2" x2="812.5" y2="648.8"/></g>
<g fill="#e31818"><path d="M776.7 651.9l-5 -2l0.6 4z"/><path d="M808.5 649.2l5 -2.6l0.5 4z"/></g>
<path d="M834.1 638.0L871.2 632.8L991.2 707.2L954.1 712.4Z" fill="#a9a6a6" stroke="#6a6a6a" stroke-width="0.5"/>
<path d="M834.1 638.0L954.1 712.4V721.6L834.1 647.2Z" fill="#424242" stroke="#333" stroke-width="0.5"/>
<ellipse cx="849.2" cy="642.1" rx="2.6" ry="1.4" fill="#555"/>
<path d="M854.2 645.6L866.2 654.1L867.2 656.6" fill="none" stroke="#6f8583" stroke-width="2.4" stroke-linecap="round"/><path d="M854.2 645.6L866.2 654.1L867.2 656.6" fill="none" stroke="#c5d3d0" stroke-width="1.2" stroke-linecap="round"/>
<ellipse cx="872.0" cy="639.2" rx="2.6" ry="1.4" fill="#555"/>
<path d="M877.0 642.7L889.0 651.2L890.0 653.7" fill="none" stroke="#6f8583" stroke-width="2.4" stroke-linecap="round"/><path d="M877.0 642.7L889.0 651.2L890.0 653.7" fill="none" stroke="#c5d3d0" stroke-width="1.2" stroke-linecap="round"/>
<g stroke="#e31818" stroke-width="1"><line x1="833.2" y1="644.3" x2="841.2" y2="642.9"/><line x1="892.0" y1="637.6" x2="881.0" y2="639.2"/></g>
<g fill="#e31818"><path d="M845.2 642.3l-5 -2l0.6 4z"/><path d="M877.0 639.6l5 -2.6l0.5 4z"/></g>
<path d="M902.6 628.4L939.7 623.2L1059.7 697.6L1022.6 702.8Z" fill="#a9a6a6" stroke="#6a6a6a" stroke-width="0.5"/>
<path d="M902.6 628.4L1022.6 702.8V712.0L902.6 637.6Z" fill="#424242" stroke="#333" stroke-width="0.5"/>
<ellipse cx="917.7" cy="632.5" rx="2.6" ry="1.4" fill="#555"/>
<path d="M922.7 636.0L934.7 644.5L935.7 647.0" fill="none" stroke="#6f8583" stroke-width="2.4" stroke-linecap="round"/><path d="M922.7 636.0L934.7 644.5L935.7 647.0" fill="none" stroke="#c5d3d0" stroke-width="1.2" stroke-linecap="round"/>
<ellipse cx="940.5" cy="629.6" rx="2.6" ry="1.4" fill="#555"/>
<path d="M945.5 633.1L957.5 641.6L958.5 644.1" fill="none" stroke="#6f8583" stroke-width="2.4" stroke-linecap="round"/><path d="M945.5 633.1L957.5 641.6L958.5 644.1" fill="none" stroke="#c5d3d0" stroke-width="1.2" stroke-linecap="round"/>
<g stroke="#e31818" stroke-width="1"><line x1="901.7" y1="634.7" x2="909.7" y2="633.3"/><line x1="960.5" y1="628.0" x2="949.5" y2="629.6"/></g>
<g fill="#e31818"><path d="M913.7 632.7l-5 -2l0.6 4z"/><path d="M945.5 630.0l5 -2.6l0.5 4z"/></g>
</g>
<line x1="651" y1="674.2" x2="671.3" y2="610" stroke="#111" stroke-width="1"/>
<circle cx="688.2" cy="588.2" r="27.3" fill="#fff" stroke="#555" stroke-width="0.8"/>
<defs><linearGradient id="gs" x1="0" y1="0" x2="1" y2="0"><stop offset="0" stop-color="#6f8a88"/><stop offset="0.5" stop-color="#c9d6d4"/><stop offset="1" stop-color="#55706e"/></linearGradient></defs>
<g transform="translate(687.5,590) rotate(-66)"><path d="M-22 0L-17 -2.4H16V2.4H-17Z" fill="url(#gs)"/>
<g stroke="#3c5552" stroke-width="0.9"><line x1="-16" y1="-2.6" x2="-14.4" y2="2.6"/><line x1="-13" y1="-2.6" x2="-11.4" y2="2.6"/><line x1="-10" y1="-2.6" x2="-8.4" y2="2.6"/><line x1="-7" y1="-2.6" x2="-5.4" y2="2.6"/><line x1="-4" y1="-2.6" x2="-2.4" y2="2.6"/><line x1="-1" y1="-2.6" x2="0.6000000000000001" y2="2.6"/><line x1="2" y1="-2.6" x2="3.6" y2="2.6"/><line x1="5" y1="-2.6" x2="6.6" y2="2.6"/><line x1="8" y1="-2.6" x2="9.6" y2="2.6"/><line x1="11" y1="-2.6" x2="12.6" y2="2.6"/><line x1="14" y1="-2.6" x2="15.6" y2="2.6"/></g>
<path d="M15 -2.4L22 -7.5L23.5 7.5L15 2.4Z" fill="#b9c8c6" stroke="#6d8583" stroke-width="0.6"/></g>
</g>

<!-- titles -->
<g class="t">
<text x="93.3" y="69.9" textLength="94.2" lengthAdjust="spacingAndGlyphs">Сборка изголовья</text>
<text x="93.3" y="314.7" textLength="86" lengthAdjust="spacingAndGlyphs">Сборка изножья</text>
<text x="348.3" y="70.8" textLength="53.7" lengthAdjust="spacingAndGlyphs">Изголовье</text>
<text x="340.3" y="202" textLength="86" lengthAdjust="spacingAndGlyphs">Боковые (царги)</text>
<text x="340.3" y="315.1" textLength="46.1" lengthAdjust="spacingAndGlyphs">Изножье</text>
<text x="644.2" y="69" textLength="216.6" lengthAdjust="spacingAndGlyphs">Соединение боковой части с изголовьем</text>
<text x="56.8" y="482" textLength="208" lengthAdjust="spacingAndGlyphs">Соединение боковой части с изножьем</text>
<text x="374.7" y="477.7" textLength="151.5" lengthAdjust="spacingAndGlyphs">Соединение боковых частей</text>
<text x="374.7" y="493.6" textLength="134.9" lengthAdjust="spacingAndGlyphs">с изголовьем и изножьем</text>
<text x="639.2" y="482.8" textLength="231.8" lengthAdjust="spacingAndGlyphs">Крепление реечного дна к боковым (царги)</text>
</g>
<!-- circled numbers -->
<g fill="none" stroke="#111" stroke-width="1.3">
<circle cx="33.4" cy="64.6" r="14.3"/>
<circle cx="331.1" cy="63.9" r="13.9"/>
<circle cx="620.2" cy="63.8" r="14"/>
<circle cx="33.9" cy="478.3" r="14.5"/>
<circle cx="327.8" cy="478.2" r="14.2"/>
<circle cx="617.6" cy="478.3" r="13.9" stroke-width="1.8"/>
</g>
<path d="M28.3 60.8L34.3 55.2" stroke="#111" stroke-width="2.9" stroke-linecap="butt"/>
<rect x="32.8" y="54.1" width="2.9" height="21.3" fill="#111"/>
<g class="n" text-anchor="middle">
<text x="330.9" y="73.5">2</text>
<text x="621.4" y="73.6">3</text>
<text x="32.9" y="488.6">4</text>
<text x="327.7" y="488.7">5</text>
</g>
<text x="617.6" y="489" text-anchor="middle" style="font-family:'Liberation Serif',serif;font-weight:bold;font-size:29px;fill:#111">6</text>
<!--BED-->
<g id="bed" stroke-linejoin="round">
<path d="M270 860.3L289.3 854.6V990H270Z" fill="#fff" stroke="#555" stroke-width="0.7"/>
<path d="M264.7 857L284 851.4L289.3 854.6L270 860.3Z" fill="#b4b4b4" stroke="#555" stroke-width="0.6"/>
<line x1="270" y1="860.3" x2="270" y2="990" stroke="#444" stroke-width="1"/>
<path d="M264.7 895.7L270 894.5V908.5L264.7 909.5Z" fill="#d6d6d6" stroke="#777" stroke-width="0.5"/>
<path d="M264.7 953.7L270 952.5V975L264.7 976Z" fill="#d6d6d6" stroke="#777" stroke-width="0.5"/>
<path d="M89.3 904.7L264.7 859V1000L89.3 1050Z" fill="#fff"/>
<path d="M89.3 904.7L264.7 859V862.5L89.3 908.2Z" fill="#b6b6b6" stroke="#555" stroke-width="0.6"/>
<path d="M89.3 941.7C105 941 120 938.5 150 932.3C165 929 175 924 183.3 920C195 914 205 908.5 216.7 905C228 901.5 240 899.5 250 898.3C256 897.5 260 896.5 264.7 895.7" fill="none" stroke="#555" stroke-width="0.6"/>
<path d="M89.3 951C105 950.5 125 946.5 150 940C165 935.5 175 931 183.3 926.7C195 921 205 917.5 216.7 915C228 912 240 910 250 909C256 908.3 260 908 264.7 907.7L264.7 911.4C260 911.7 256 912 250 912.7C240 913.7 228 915.7 216.7 918.7C205 921.2 195 924.7 183.3 930.4C175 934.7 165 939.2 150 943.7C125 950.2 105 954.2 89.3 954.7Z" fill="#b6b6b6" stroke="#555" stroke-width="0.6"/>
<line x1="89.3" y1="999" x2="264.7" y2="953.7" stroke="#555" stroke-width="0.6"/>
<path d="M89.3 1018.3L264.7 975.7V979.7L89.3 1022.3Z" fill="#b6b6b6" stroke="#555" stroke-width="0.6"/>
<path d="M283.3 973.3V1006" stroke="#666" stroke-width="0.7"/>
<defs><clipPath id="bedint"><path d="M76.3 1026L338 1175L560 1124L300 982L264.7 979.7L89.3 1022.3Z"/></clipPath></defs>
<g clip-path="url(#bedint)">
<path d="M60 1000L336.7 1172.2L600 1150L283.3 960L89.3 1010Z" fill="#d5d5d5"/>
<path d="M60 1030L264.7 979.7L283.3 978L287.3 984.7L60 1045Z" fill="#fff"/>
<path d="M278.8 1003.8L-21.2 1083.3V1090.9L278.8 1009.4Z" fill="#fff"/>
<path d="M278.8 1007.0L-21.2 1086.5" stroke="#777" stroke-width="0.6"/>
<path d="M301.8 993.2V997.7L1.8 1077.2V1072.7Z" fill="#fff" stroke="#555" stroke-width="0.6"/>
<path d="M287.3 984.7L300.8 991.7Q302.6 992.7 301.8 993.2L1.8 1072.7L-12.7 1064.2Z" fill="#b8b8b8" stroke="#4a4a4a" stroke-width="0.6"/>
<path d="M305.7 1019.1L5.7 1098.6V1106.2L305.7 1024.7Z" fill="#fff"/>
<path d="M305.7 1022.3L5.7 1101.8" stroke="#777" stroke-width="0.6"/>
<path d="M328.7 1008.5V1013.0L28.7 1092.5V1088.0Z" fill="#fff" stroke="#555" stroke-width="0.6"/>
<path d="M314.2 1000.0L327.7 1007.0Q329.5 1008.0 328.7 1008.5L28.7 1088.0L14.2 1079.5Z" fill="#b8b8b8" stroke="#4a4a4a" stroke-width="0.6"/>
<path d="M332.6 1034.5L32.6 1114.0V1121.6L332.6 1040.1Z" fill="#fff"/>
<path d="M332.6 1037.7L32.6 1117.2" stroke="#777" stroke-width="0.6"/>
<path d="M355.6 1023.9V1028.4L55.6 1107.9V1103.4Z" fill="#fff" stroke="#555" stroke-width="0.6"/>
<path d="M341.1 1015.4L354.6 1022.4Q356.4 1023.4 355.6 1023.9L55.6 1103.4L41.1 1094.9Z" fill="#b8b8b8" stroke="#4a4a4a" stroke-width="0.6"/>
<path d="M359.5 1049.8L59.5 1129.3V1136.9L359.5 1055.4Z" fill="#fff"/>
<path d="M359.5 1053.0L59.5 1132.5" stroke="#777" stroke-width="0.6"/>
<path d="M382.5 1039.2V1043.7L82.5 1123.2V1118.7Z" fill="#fff" stroke="#555" stroke-width="0.6"/>
<path d="M368.0 1030.7L381.5 1037.7Q383.3 1038.7 382.5 1039.2L82.5 1118.7L68.0 1110.2Z" fill="#b8b8b8" stroke="#4a4a4a" stroke-width="0.6"/>
<path d="M386.4 1065.1L86.4 1144.6V1152.2L386.4 1070.7Z" fill="#fff"/>
<path d="M386.4 1068.3L86.4 1147.8" stroke="#777" stroke-width="0.6"/>
<path d="M409.4 1054.5V1059.0L109.4 1138.5V1134.0Z" fill="#fff" stroke="#555" stroke-width="0.6"/>
<path d="M394.9 1046.0L408.4 1053.0Q410.2 1054.0 409.4 1054.5L109.4 1134.0L94.9 1125.5Z" fill="#b8b8b8" stroke="#4a4a4a" stroke-width="0.6"/>
<path d="M413.3 1080.4L113.3 1159.9V1167.6L413.3 1086.1Z" fill="#fff"/>
<path d="M413.3 1083.6L113.3 1163.1" stroke="#777" stroke-width="0.6"/>
<path d="M436.3 1069.9V1074.4L136.3 1153.9V1149.4Z" fill="#fff" stroke="#555" stroke-width="0.6"/>
<path d="M421.8 1061.4L435.3 1068.4Q437.1 1069.4 436.3 1069.9L136.3 1149.4L121.8 1140.9Z" fill="#b8b8b8" stroke="#4a4a4a" stroke-width="0.6"/>
<path d="M440.2 1095.8L140.2 1175.3V1182.9L440.2 1101.4Z" fill="#fff"/>
<path d="M440.2 1099.0L140.2 1178.5" stroke="#777" stroke-width="0.6"/>
<path d="M463.2 1085.2V1089.7L163.2 1169.2V1164.7Z" fill="#fff" stroke="#555" stroke-width="0.6"/>
<path d="M448.7 1076.7L462.2 1083.7Q464.0 1084.7 463.2 1085.2L163.2 1164.7L148.7 1156.2Z" fill="#b8b8b8" stroke="#4a4a4a" stroke-width="0.6"/>
<path d="M467.1 1111.1L167.1 1190.6V1198.2L467.1 1116.7Z" fill="#fff"/>
<path d="M467.1 1114.3L167.1 1193.8" stroke="#777" stroke-width="0.6"/>
<path d="M490.1 1100.5V1105.0L190.1 1184.5V1180.0Z" fill="#fff" stroke="#555" stroke-width="0.6"/>
<path d="M475.6 1092.0L489.1 1099.0Q490.9 1100.0 490.1 1100.5L190.1 1180.0L175.6 1171.5Z" fill="#b8b8b8" stroke="#4a4a4a" stroke-width="0.6"/>
<path d="M494.0 1126.4L194.0 1205.9V1213.6L494.0 1132.1Z" fill="#fff"/>
<path d="M494.0 1129.6L194.0 1209.1" stroke="#777" stroke-width="0.6"/>
<path d="M517.0 1115.8V1120.3L217.0 1199.8V1195.3Z" fill="#fff" stroke="#555" stroke-width="0.6"/>
<path d="M502.5 1107.3L516.0 1114.3Q517.8 1115.3 517.0 1115.8L217.0 1195.3L202.5 1186.8Z" fill="#b8b8b8" stroke="#4a4a4a" stroke-width="0.6"/>
<path d="M543.9 1131.2V1135.7L243.9 1215.2V1210.7Z" fill="#fff" stroke="#555" stroke-width="0.6"/>
<path d="M529.4 1122.7L542.9 1129.7Q544.7 1130.7 543.9 1131.2L243.9 1210.7L229.4 1202.2Z" fill="#b8b8b8" stroke="#4a4a4a" stroke-width="0.6"/>
</g>
<path d="M283.3 973.3L557 1122.6V1126.8L283.3 977.5Z" fill="#ababab" stroke="#555" stroke-width="0.6"/>
<path d="M283.3 977.5L557 1126.8" stroke="#f0f0f0" stroke-width="0.8"/>
<path d="M64.3 908.3L69.7 911.3V1120L64.3 1117.3Z" fill="#d8d8d8" stroke="#555" stroke-width="0.6"/>
<path d="M69.7 911.3L89.3 904.7V1114.7L69.7 1120Z" fill="#fff" stroke="#555" stroke-width="0.7"/>
<path d="M64.3 908.3L83.7 903.3L89.3 904.7L69.7 911.3Z" fill="#b4b4b4" stroke="#555" stroke-width="0.6"/>
<path d="M70.3 1030L336.7 1179.5V1210.9L70.3 1062Z" fill="#d4d4d4" stroke="#555" stroke-width="0.7"/>
<path d="M70.3 1030L76.3 1026L338 1175L336.7 1179.5Z" fill="#b2b2b2" stroke="#555" stroke-width="0.6"/>
<path d="M74 1028.3L337 1177.2" stroke="#888" stroke-width="0.5"/>
<path d="M359 1177L542.6 1129.1V1207.1L359 1254.5Z" fill="#fff" stroke="#555" stroke-width="0.6"/>
<path d="M345 1172.3L545 1119.3L542.6 1129.1L359 1177.5Z" fill="#b3b3b3" stroke="#555" stroke-width="0.6"/>
<path d="M350 1175L543 1124" stroke="#666" stroke-width="0.5"/>
<path d="M361.9 1209.4C390 1208 420 1200 450 1187.8C480 1177 510 1170 542.6 1165.2" fill="none" stroke="#555" stroke-width="0.6"/>
<path d="M361.9 1218.1C390 1216 420 1207 450 1195C475 1184 505 1176 542.6 1173.2V1176.7C505 1179.5 475 1187.5 450 1198.5C420 1210.5 390 1219.5 361.9 1221.6Z" fill="#b6b6b6" stroke="#555" stroke-width="0.6"/>
<path d="M539 1164.5L542.6 1164V1172.4L539 1173Z" fill="#d6d6d6" stroke="#777" stroke-width="0.5"/>
<path d="M539 1207.5L542.6 1207V1222.3L539 1220Z" fill="#d6d6d6" stroke="#777" stroke-width="0.5"/>
<path d="M542.6 1129.8L562.8 1125.5V1216.5L542.6 1222.3Z" fill="#fff" stroke="#555" stroke-width="0.7"/>
<path d="M539 1127L557 1122.6L562.8 1125.5L542.6 1129.8Z" fill="#b4b4b4" stroke="#555" stroke-width="0.6"/>
<line x1="542.6" y1="1129.8" x2="542.6" y2="1222.3" stroke="#444" stroke-width="1"/>
<path d="M336.2 1177.7L342.4 1181.3V1273L336.2 1270Z" fill="#d8d8d8" stroke="#555" stroke-width="0.6"/>
<path d="M342.4 1181.3L361.9 1176.2V1269.4L342.4 1273Z" fill="#fff" stroke="#555" stroke-width="0.7"/>
<path d="M336.2 1177.7L357.6 1173.3L361.9 1176.2L342.4 1181.3Z" fill="#b4b4b4" stroke="#555" stroke-width="0.6"/>
</g>
<!--/BED-->
<!-- table -->
<text x="597.5" y="863" textLength="212" lengthAdjust="spacingAndGlyphs" style="font-family:'Liberation Serif',serif;font-weight:bold;font-style:italic;font-size:19.5px;fill:#111">Комплектация кровати</text>
<g stroke="#444" stroke-width="1.2" fill="none">
<rect x="592.3" y="868.5" width="276.4" height="265.2"/>
<line x1="809.2" y1="868.5" x2="809.2" y2="1133.7"/>
<path d="M592.3 890.3H868.7M592.3 913.3H868.7M592.3 935.8H868.7M592.3 958.4H868.7M592.3 980H868.7M592.3 1001.5H868.7M592.3 1022.8H868.7M592.3 1043.8H868.7M592.3 1065.4H868.7M592.3 1087.9H868.7M592.3 1110.5H868.7"/>
</g>
<g class="tb">
<text x="600" y="884.5" textLength="107.7" lengthAdjust="spacingAndGlyphs">Ножки изголовья</text>
<text x="600" y="907" textLength="98.3" lengthAdjust="spacingAndGlyphs">Ножки изножья</text>
<text x="600" y="929.5" textLength="67.7" lengthAdjust="spacingAndGlyphs">Поперечки</text>
<text x="600" y="952" textLength="136" lengthAdjust="spacingAndGlyphs">Каркасные поперечки</text>
<text x="600" y="974" textLength="36" lengthAdjust="spacingAndGlyphs">Царга</text>
<text x="600" y="995.5" textLength="120.7" lengthAdjust="spacingAndGlyphs">Рейка реечного дна</text>
<text x="600" y="1017" textLength="55" lengthAdjust="spacingAndGlyphs">Болт 120</text>
<text x="600" y="1038" textLength="42.3" lengthAdjust="spacingAndGlyphs">Шкант</text>
<text x="600" y="1059" textLength="52.7" lengthAdjust="spacingAndGlyphs">Футорка</text>
<text x="600" y="1081" textLength="103.3" lengthAdjust="spacingAndGlyphs">Саморез 3,5 х 30</text>
<text x="600" y="1103" textLength="59" lengthAdjust="spacingAndGlyphs">Заглушка</text>
<text x="600" y="1126" textLength="112.3" lengthAdjust="spacingAndGlyphs">Стяжка кроватная</text>
</g>
<g class="tb" text-anchor="middle">
<text x="839" y="884.5">2 шт</text>
<text x="839" y="907">2 шт</text>
<text x="839" y="929.5">3 шт</text>
<text x="839" y="952">2 шт</text>
<text x="839" y="974">2 шт</text>
<text x="839" y="995.5">10 шт</text>
<text x="839" y="1017">13 шт</text>
<text x="839" y="1038">10 шт</text>
<text x="839" y="1059">1 шт</text>
<text x="839" y="1081">42 шт</text>
<text x="839" y="1103">12 шт</text>
<text x="839" y="1126">2 кт</text>
</g>
</svg>
</body></html>
